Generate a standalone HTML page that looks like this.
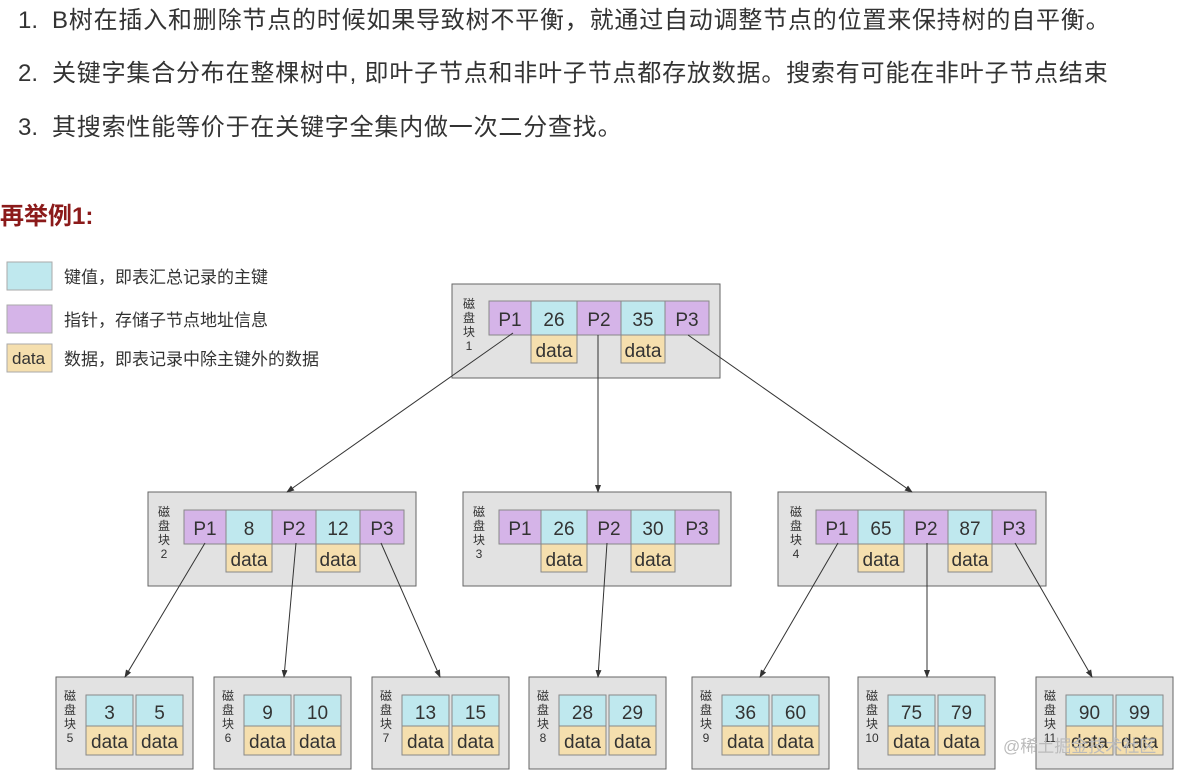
<!DOCTYPE html>
<html><head><meta charset="utf-8"><style>
body{margin:0;background:#fff;width:1184px;height:779px;overflow:hidden;font-family:"Liberation Sans","Noto Sans CJK SC",sans-serif}
.l{position:absolute;left:18px;font-size:24px;letter-spacing:0.8px;color:#333;white-space:nowrap}
.l span{display:inline-block;width:34px;letter-spacing:0}
svg text{font-family:"Liberation Sans","Noto Sans CJK SC",sans-serif}
</style></head><body>
<div class="l" style="top:0px"><span>1.</span>B树在插入和删除节点的时候如果导致树不平衡，就通过自动调整节点的位置来保持树的自平衡。</div>
<div class="l" style="top:53px"><span>2.</span>关键字集合分布在整棵树中, 即叶子节点和非叶子节点都存放数据。搜索有可能在非叶子节点结束</div>
<div class="l" style="top:107px"><span>3.</span>其搜索性能等价于在关键字全集内做一次二分查找。</div>
<div style="position:absolute;left:0;top:196px;font-size:24px;font-weight:bold;color:#8b1a1a">再举例1:</div>
<svg width="1184" height="779" style="position:absolute;left:0;top:0">
<defs><marker id="a" markerWidth="8" markerHeight="8" refX="7" refY="4" orient="auto"><path d="M0,1 L8,4 L0,7z" fill="#333"/></marker></defs>
<g font-size="17" fill="#333">
<rect x="7" y="262" width="45" height="28" fill="#bfe8ee" stroke="#aaa"/><text x="64" y="283">键值，即表汇总记录的主键</text>
<rect x="7" y="305" width="45" height="28" fill="#d5b4e8" stroke="#aaa"/><text x="64" y="326">指针，存储子节点地址信息</text>
<rect x="7" y="344" width="45" height="28" fill="#f5dfae" stroke="#aaa"/><text x="12" y="364" font-size="17">data</text><text x="64" y="365">数据，即表记录中除主键外的数据</text>
</g>
<g id="g"></g>
<g stroke="#333" stroke-width="1" marker-end="url(#a)">
<line x1="513" y1="333" x2="287" y2="492"/><line x1="598" y1="335" x2="598" y2="492"/><line x1="688" y1="335" x2="912" y2="492"/>
<line x1="205" y1="543" x2="125" y2="677"/><line x1="296" y1="543" x2="284" y2="677"/><line x1="381" y1="543" x2="440" y2="677"/>
<line x1="607" y1="543" x2="598" y2="677"/>
<line x1="838" y1="543" x2="760" y2="677"/><line x1="927" y1="543" x2="927" y2="677"/><line x1="1015" y1="543" x2="1092" y2="677"/>
</g>
<text x="1003" y="752" font-size="17" fill="#bbb">@稀土掘金技术社区</text>
</svg>
<script>
var g=document.getElementById('g'),s='';
function r(x,y,w,h,f,st){s+='<rect x="'+x+'" y="'+y+'" width="'+w+'" height="'+h+'" fill="'+f+'" stroke="'+(st||'#888')+'"/>';}
function t(x,y,v,fs){s+='<text x="'+x+'" y="'+y+'" font-size="'+(fs||19)+'" fill="#333" text-anchor="middle">'+v+'</text>';}
function lbl(x,y,n){['磁','盘','块',n].forEach(function(c,i){t(x,y+i*14,c,12)});}
function inner(bx,by,cx,cy,k1,k2){
 r(bx,by,268,94,'#e2e2e2','#666');lbl(cx-20,by+24,arguments[6]);
 var w=[42,46,44,44,44],lab=['P1',k1,'P2',k2,'P3'],x=cx;
 for(var i=0;i<5;i++){r(x,cy,w[i],34,i%2?'#bfe8ee':'#d5b4e8');t(x+w[i]/2,cy+25,lab[i]);if(i%2){r(x,cy+34,w[i],28,'#f5dfae');t(x+w[i]/2,cy+56,'data');}x+=w[i];}
}
inner(452,284,489,301,'26','35','1');
inner(148,492,184,510,'8','12','2');
inner(463,492,499,510,'26','30','3');
inner(778,492,816,510,'65','87','4');
function leaf(bx,a,b,n){r(bx,677,137,92,'#e2e2e2','#666');lbl(bx+14,700,n);
 [[bx+30,a],[bx+80,b]].forEach(function(p){r(p[0],695,47,31,'#bfe8ee');t(p[0]+23.5,719,p[1]);r(p[0],726,47,29,'#f5dfae');t(p[0]+23.5,748,'data');});}
leaf(56,'3','5','5');leaf(214,'9','10','6');leaf(372,'13','15','7');leaf(529,'28','29','8');leaf(692,'36','60','9');leaf(858,'75','79','10');leaf(1036,'90','99','11');
g.innerHTML=s;
</script>
</body></html>
